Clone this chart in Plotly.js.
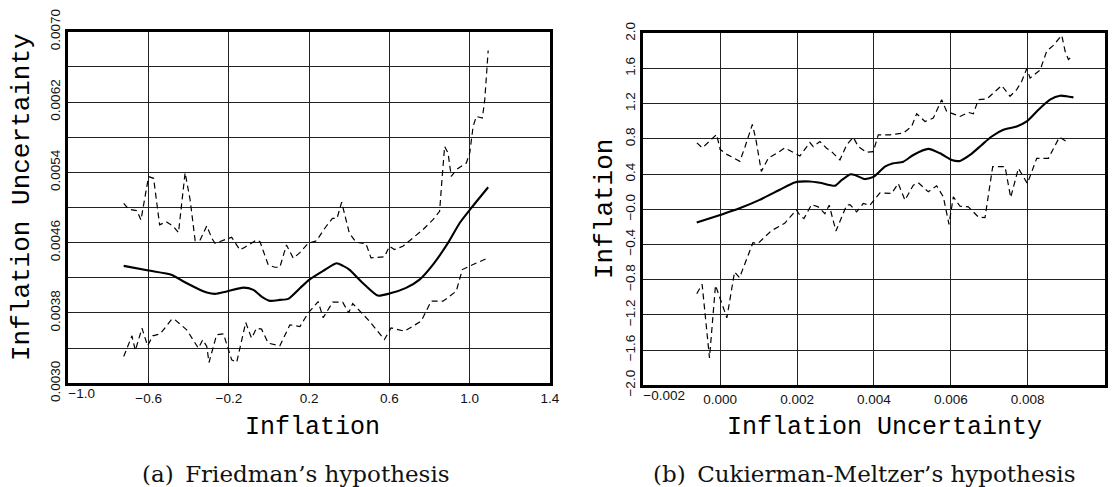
<!DOCTYPE html>
<html>
<head>
<meta charset="utf-8">
<script src="https://cdn.plot.ly/plotly-3.0.1.min.js"></script>
<style>
  html, body { margin: 0; padding: 0; background: #ffffff; }
  #chart { width: 1120px; height: 487px; }
</style>
</head>
<body>
<div id="chart"></div>
<script>
// ---------- Panel (a): Friedman's hypothesis ----------
const friedmanSolidX = [-0.724, -0.600, -0.484, -0.426, -0.360, -0.310, -0.269, -0.211, -0.128, -0.078, -0.037, 0.005, 0.054, 0.096, 0.154, 0.200, 0.270, 0.336, 0.369, 0.400, 0.467, 0.542, 0.600, 0.683, 0.750, 0.817, 0.892, 0.950, 1.008, 1.092];
const friedmanSolidY = [0.004336, 0.004283, 0.004233, 0.004158, 0.004082, 0.004033, 0.004017, 0.004044, 0.004089, 0.004063, 0.003987, 0.003938, 0.003949, 0.003961, 0.004082, 0.004177, 0.004279, 0.004366, 0.004336, 0.004294, 0.004142, 0.003998, 0.004021, 0.004086, 0.004180, 0.004351, 0.004597, 0.004824, 0.004995, 0.005230];

const friedmanUpperX = [-0.724, -0.699, -0.658, -0.638, -0.600, -0.575, -0.545, -0.512, -0.476, -0.451, -0.418, -0.393, -0.368, -0.343, -0.310, -0.285, -0.269, -0.227, -0.186, -0.145, -0.120, -0.062, -0.045, -0.004, 0.029, 0.054, 0.087, 0.121, 0.154, 0.195, 0.236, 0.278, 0.316, 0.339, 0.362, 0.400, 0.433, 0.483, 0.508, 0.575, 0.600, 0.625, 0.667, 0.717, 0.767, 0.817, 0.850, 0.863, 0.875, 0.892, 0.908, 0.933, 0.983, 1.000, 1.017, 1.033, 1.063, 1.075, 1.092];
const friedmanUpperY = [0.005048, 0.004980, 0.004964, 0.004858, 0.005351, 0.005332, 0.004802, 0.004839, 0.004783, 0.004714, 0.005396, 0.005086, 0.004623, 0.004631, 0.004790, 0.004650, 0.004593, 0.004631, 0.004661, 0.004517, 0.004548, 0.004631, 0.004612, 0.004347, 0.004320, 0.004320, 0.004574, 0.004423, 0.004487, 0.004593, 0.004620, 0.004764, 0.004877, 0.004877, 0.005060, 0.004711, 0.004605, 0.004589, 0.004427, 0.004438, 0.004559, 0.004521, 0.004559, 0.004654, 0.004748, 0.004862, 0.004957, 0.005355, 0.005695, 0.005620, 0.005355, 0.005430, 0.005506, 0.005620, 0.005923, 0.006036, 0.006017, 0.006226, 0.006786];

const friedmanLowerX = [-0.724, -0.683, -0.666, -0.633, -0.605, -0.579, -0.542, -0.484, -0.468, -0.410, -0.352, -0.330, -0.310, -0.299, -0.261, -0.227, -0.186, -0.161, -0.116, -0.087, -0.062, -0.037, -0.004, 0.054, 0.104, 0.154, 0.195, 0.245, 0.270, 0.317, 0.367, 0.397, 0.417, 0.500, 0.575, 0.608, 0.675, 0.758, 0.808, 0.867, 0.933, 0.963, 1.017, 1.092];
const friedmanLowerY = [0.003305, 0.003540, 0.003373, 0.003627, 0.003427, 0.003540, 0.003563, 0.003730, 0.003722, 0.003608, 0.003400, 0.003495, 0.003419, 0.003237, 0.003552, 0.003563, 0.003267, 0.003237, 0.003692, 0.003514, 0.003627, 0.003616, 0.003457, 0.003427, 0.003665, 0.003646, 0.003798, 0.003930, 0.003745, 0.003923, 0.003923, 0.003802, 0.003908, 0.003707, 0.003498, 0.003631, 0.003593, 0.003707, 0.003934, 0.003934, 0.004048, 0.004294, 0.004351, 0.004427];

const friedmanXTickVals = [-1.0, -0.6, -0.2, 0.2, 0.6, 1.0, 1.4];
const friedmanXTickText = ['', '\u22120.6', '\u22120.2', '0.2', '0.6', '1.0', '1.4'];
const friedmanXFirstTickVal = [-1.0];
const friedmanXFirstTickText = ['\u22121.0'];
const friedmanYTickVals = [0.0030, 0.0034, 0.0038, 0.0042, 0.0046, 0.0050, 0.0054, 0.0058, 0.0062, 0.0066, 0.0070];
const friedmanYTickText = ['0.0030', '', '0.0038', '', '0.0046', '', '0.0054', '', '0.0062', '', '0.0070'];

// ---------- Panel (b): Cukierman-Meltzer's hypothesis ----------
const cmSolidX = [-0.00061, 0.0, 0.000504, 0.001026, 0.001548, 0.001939, 0.00233, 0.002594, 0.002985, 0.003158, 0.003375, 0.003505, 0.003766, 0.004, 0.004286, 0.004503, 0.004764, 0.005024, 0.005414, 0.005718, 0.006022, 0.006239, 0.006499, 0.006803, 0.007063, 0.007367, 0.007714, 0.007974, 0.008278, 0.008581, 0.008842, 0.009015, 0.009189];
const cmSolidY = [-0.152, -0.065, 0.011, 0.107, 0.221, 0.305, 0.316, 0.301, 0.267, 0.331, 0.396, 0.389, 0.343, 0.37, 0.484, 0.522, 0.541, 0.617, 0.686, 0.636, 0.56, 0.549, 0.617, 0.731, 0.827, 0.903, 0.941, 0.998, 1.131, 1.246, 1.291, 1.284, 1.272];

const cmUpperX = [-0.000605, -0.000465, -0.000093, 0.0, 0.000186, 0.000512, 0.000651, 0.000837, 0.00093, 0.00107, 0.001256, 0.001488, 0.001674, 0.002074, 0.002334, 0.002421, 0.002594, 0.002768, 0.002898, 0.003115, 0.003289, 0.003462, 0.003592, 0.003809, 0.003983, 0.004113, 0.004416, 0.004764, 0.00498, 0.005111, 0.005328, 0.005544, 0.005761, 0.005892, 0.006239, 0.006456, 0.006586, 0.006716, 0.006933, 0.007063, 0.007323, 0.00754, 0.007714, 0.007844, 0.007974, 0.008061, 0.008321, 0.008495, 0.008668, 0.008885, 0.008972, 0.009059, 0.009145];
const cmUpperY = [0.754, 0.697, 0.85, 0.678, 0.621, 0.545, 0.716, 0.964, 0.792, 0.43, 0.583, 0.64, 0.697, 0.606, 0.758, 0.712, 0.77, 0.693, 0.655, 0.56, 0.731, 0.819, 0.712, 0.648, 0.655, 0.846, 0.846, 0.865, 0.941, 1.086, 0.998, 1.036, 1.246, 1.112, 1.055, 1.101, 1.086, 1.246, 1.253, 1.303, 1.406, 1.284, 1.36, 1.455, 1.596, 1.493, 1.581, 1.798, 1.863, 1.977, 1.798, 1.703, 1.733];

const cmLowerX = [-0.000609, -0.00047, -0.000278, -0.000122, 0.000174, 0.000374, 0.000504, 0.000852, 0.000983, 0.00133, 0.001678, 0.001983, 0.002074, 0.002178, 0.002377, 0.002551, 0.002724, 0.002837, 0.003011, 0.003289, 0.003375, 0.003549, 0.003722, 0.003896, 0.004156, 0.00446, 0.004633, 0.004807, 0.005024, 0.005154, 0.005414, 0.005631, 0.005805, 0.005952, 0.006065, 0.006239, 0.006456, 0.006716, 0.006889, 0.007089, 0.00741, 0.007557, 0.007757, 0.007991, 0.008234, 0.008538, 0.008824, 0.009059];
const cmLowerY = [-0.96, -0.853, -1.691, -0.865, -1.234, -0.712, -0.777, -0.381, -0.389, -0.244, -0.16, -0.008, -0.069, -0.107, 0.053, 0.027, -0.05, 0.046, -0.248, 0.046, 0.053, -0.03, 0.065, 0.046, 0.187, 0.179, 0.293, 0.103, 0.274, 0.301, 0.198, 0.267, 0.141, -0.171, 0.141, 0.034, 0.027, -0.088, -0.095, 0.484, 0.484, 0.133, 0.465, 0.293, 0.579, 0.579, 0.819, 0.758];

const cmXTickVals = [-0.002, 0.0, 0.002, 0.004, 0.006, 0.008, 0.010];
const cmXTickText = ['', '0.000', '0.002', '0.004', '0.006', '0.008', '0.010'];
const cmXFirstTickVal = [-0.002];
const cmXFirstTickText = ['\u22120.002'];
const cmYTickVals = [-2.0, -1.6, -1.2, -0.8, -0.4, 0.0, 0.4, 0.8, 1.2, 1.6, 2.0];
const cmYTickText = ['\u22122.0', '\u22121.6', '\u22121.2', '\u22120.8', '\u22120.4', '\u22120.0', '0.4', '0.8', '1.2', '1.6', '2.0'];

// ---------- Texts ----------
const titleA_x = 'Inflation';
const titleA_y = 'Inflation Uncertainty';
const titleB_x = 'Inflation Uncertainty';
const titleB_y = 'Inflation';
const captionA = '(a)\u2002Friedman\u2019s hypothesis';
const captionB = '(b)\u2002Cukierman-Meltzer\u2019s hypothesis';

// ---------- Styles ----------
const solidLine = { color: '#000000', width: 2.1, shape: 'spline', smoothing: 0.6 };
const dashLine = { color: '#000000', width: 1.2, dash: '6px,4px' };
const tickFont = { family: 'Liberation Sans, Arial, sans-serif', size: 13.5, color: '#111111' };
const monoFont = { family: 'Liberation Mono, Courier New, monospace', size: 25, color: '#000000' };
const captionFont = { family: 'DejaVu Serif, serif', size: 23, color: '#111111' };

function axisBase(extra) {
  return Object.assign({
    tickmode: 'array',
    showgrid: true,
    gridcolor: '#222222',
    gridwidth: 1,
    zeroline: false,
    showline: true,
    mirror: true,
    linecolor: '#000000',
    linewidth: 3,
    ticks: '',
    tickfont: tickFont,
    fixedrange: true
  }, extra);
}

function labelOnlyAxis(extra) {
  return Object.assign({
    tickmode: 'array',
    showgrid: false,
    zeroline: false,
    showline: false,
    ticks: '',
    tickfont: tickFont,
    ticklabelposition: 'outside right',
    fixedrange: true
  }, extra);
}

const traces = [
  { x: friedmanUpperX, y: friedmanUpperY, xaxis: 'x', yaxis: 'y', mode: 'lines', line: dashLine, hoverinfo: 'skip' },
  { x: friedmanLowerX, y: friedmanLowerY, xaxis: 'x', yaxis: 'y', mode: 'lines', line: dashLine, hoverinfo: 'skip' },
  { x: friedmanSolidX, y: friedmanSolidY, xaxis: 'x', yaxis: 'y', mode: 'lines', line: solidLine, hoverinfo: 'skip' },
  { x: cmUpperX, y: cmUpperY, xaxis: 'x2', yaxis: 'y2', mode: 'lines', line: dashLine, hoverinfo: 'skip' },
  { x: cmLowerX, y: cmLowerY, xaxis: 'x2', yaxis: 'y2', mode: 'lines', line: dashLine, hoverinfo: 'skip' },
  { x: cmSolidX, y: cmSolidY, xaxis: 'x2', yaxis: 'y2', mode: 'lines', line: solidLine, hoverinfo: 'skip' },
  // empty carriers so the label-only overlay axes are drawn
  { x: [], y: [], xaxis: 'x3', yaxis: 'y', mode: 'lines', hoverinfo: 'skip' },
  { x: [], y: [], xaxis: 'x4', yaxis: 'y2', mode: 'lines', hoverinfo: 'skip' }
];

const W = 1120, H = 487;
const px = v => v / W;
const py = v => 1 - v / H;

const layout = {
  width: W,
  height: H,
  margin: { l: 0, r: 0, t: 0, b: 0 },
  paper_bgcolor: '#ffffff',
  plot_bgcolor: '#ffffff',
  showlegend: false,
  xaxis: axisBase({ domain: [px(68.3), px(550)], range: [-1.0, 1.4], tickvals: friedmanXTickVals, ticktext: friedmanXTickText, anchor: 'y' }),
  yaxis: axisBase({ domain: [py(383.3), py(31.7)], range: [0.0030, 0.0070], tickvals: friedmanYTickVals, ticktext: friedmanYTickText, tickangle: -90, anchor: 'x' }),
  xaxis2: axisBase({ domain: [px(643.3), px(1104.6)], range: [-0.002, 0.010], tickvals: cmXTickVals, ticktext: cmXTickText, anchor: 'y2' }),
  yaxis2: axisBase({ domain: [py(385.2), py(33.3)], range: [-2.0, 2.0], tickvals: cmYTickVals, ticktext: cmYTickText, tickangle: -90, anchor: 'x2' }),
  xaxis3: labelOnlyAxis({ overlaying: 'x', anchor: 'y', side: 'bottom', range: [-1.0, 1.4], tickvals: friedmanXFirstTickVal, ticktext: friedmanXFirstTickText }),
  xaxis4: labelOnlyAxis({ overlaying: 'x2', anchor: 'y2', side: 'bottom', range: [-0.002, 0.010], tickvals: cmXFirstTickVal, ticktext: cmXFirstTickText }),
  annotations: [
    { text: titleA_x, xref: 'paper', yref: 'paper', x: px(312), y: py(427), xanchor: 'center', yanchor: 'middle', showarrow: false, font: monoFont },
    { text: titleA_y, xref: 'paper', yref: 'paper', x: px(22), y: py(197), xanchor: 'center', yanchor: 'middle', showarrow: false, textangle: -90, font: Object.assign({}, monoFont, { size: 26 }) },
    { text: captionA, xref: 'paper', yref: 'paper', x: px(296), y: py(474), xanchor: 'center', yanchor: 'middle', showarrow: false, font: captionFont },
    { text: titleB_x, xref: 'paper', yref: 'paper', x: px(884), y: py(427), xanchor: 'center', yanchor: 'middle', showarrow: false, font: monoFont },
    { text: titleB_y, xref: 'paper', yref: 'paper', x: px(605), y: py(209), xanchor: 'center', yanchor: 'middle', showarrow: false, textangle: -90, font: Object.assign({}, monoFont, { size: 26 }) },
    { text: captionB, xref: 'paper', yref: 'paper', x: px(864), y: py(474), xanchor: 'center', yanchor: 'middle', showarrow: false, font: captionFont }
  ]
};

Plotly.newPlot('chart', traces, layout, { staticPlot: true, displayModeBar: false });
</script>
</body>
</html>
